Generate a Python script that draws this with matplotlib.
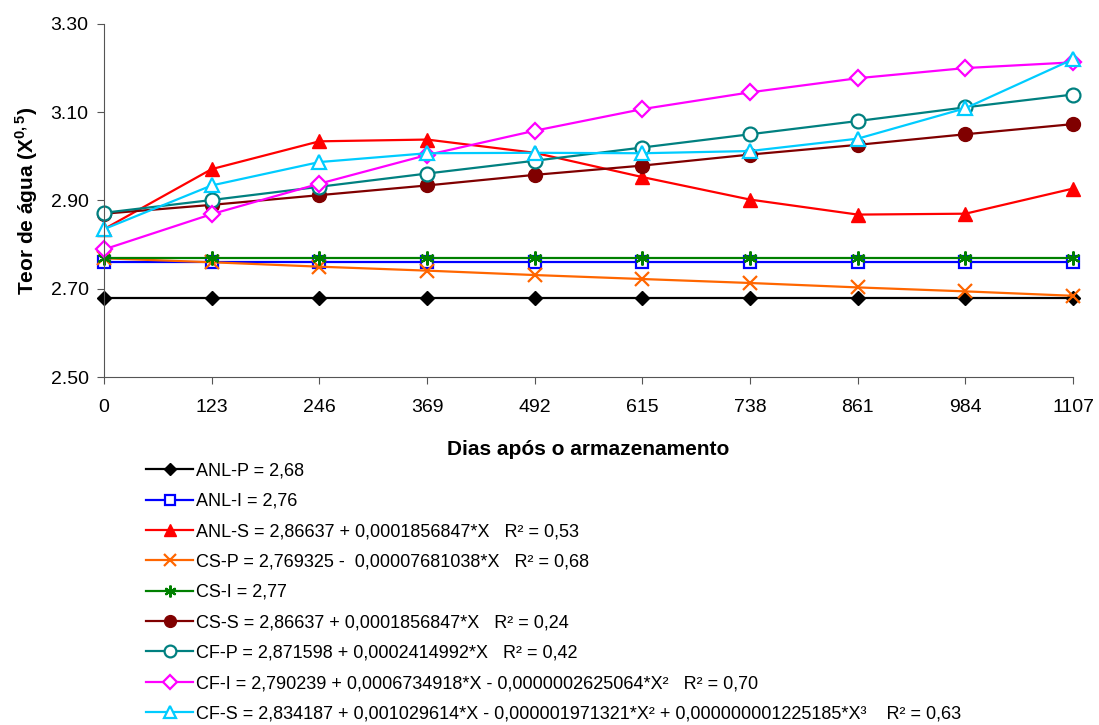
import matplotlib
matplotlib.use("Agg")
import matplotlib.pyplot as plt

plt.rcParams['font.family'] = ['Liberation Sans', 'DejaVu Sans']
plt.rcParams['mathtext.fontset'] = 'custom'
plt.rcParams['mathtext.rm'] = 'Liberation Sans'
plt.rcParams['mathtext.bf'] = 'Liberation Sans:bold'

dias = [0, 123, 246, 369, 492, 615, 738, 861, 984, 1107]

anl_p = [2.68] * 10
anl_i = [2.76] * 10
anl_s = [2.835, 2.971, 3.034, 3.038, 3.008, 2.953, 2.902, 2.868, 2.870, 2.927]
cs_p = [2.769, 2.760, 2.750, 2.741, 2.731, 2.722, 2.713, 2.703, 2.694, 2.684]
cs_i = [2.77] * 10
cs_s = [2.870, 2.890, 2.912, 2.934, 2.958, 2.979, 3.004, 3.026, 3.050, 3.073]
cf_p = [2.872, 2.901, 2.931, 2.961, 2.990, 3.020, 3.050, 3.080, 3.111, 3.140]
cf_i = [2.789, 2.869, 2.938, 3.003, 3.058, 3.107, 3.145, 3.177, 3.200, 3.213]
cf_s = [2.835, 2.934, 2.987, 3.007, 3.008, 3.007, 3.012, 3.040, 3.109, 3.220]

rotulos = [
    "ANL-P = 2,68",
    "ANL-I = 2,76",
    "ANL-S = 2,86637 + 0,0001856847*X   R² = 0,53",
    "CS-P = 2,769325 -  0,00007681038*X   R² = 0,68",
    "CS-I = 2,77",
    "CS-S = 2,86637 + 0,0001856847*X   R² = 0,24",
    "CF-P = 2,871598 + 0,0002414992*X   R² = 0,42",
    "CF-I = 2,790239 + 0,0006734918*X - 0,0000002625064*X²   R² = 0,70",
    "CF-S = 2,834187 + 0,001029614*X - 0,000001971321*X² + 0,000000001225185*X³    R² = 0,63",
]

figure = plt.figure(figsize=(10.99, 7.25), dpi=100)
axes = figure.add_axes([0.0946, 0.48, 0.8818, 0.487])

lw = 1.6
axes.plot(dias, anl_p, color="black", marker="D", ms=7, lw=lw, label=rotulos[0])
axes.plot(dias, anl_i, color="#0000FF", marker="s", ms=8, mfc="white", mew=1.6, lw=lw, label=rotulos[1])
axes.plot(dias, anl_s, color="#FF0000", marker="^", ms=10, lw=lw, label=rotulos[2])
axes.plot(dias, cs_p, color="#FF6600", marker="x", ms=10, mew=1.6, lw=lw, label=rotulos[3])
axes.plot(dias, cs_i, color="#008000", marker=(6, 2, 0), ms=10, mew=1.6, lw=lw, label=rotulos[4])
axes.plot(dias, cs_s, color="#800000", marker="o", ms=10, lw=lw, label=rotulos[5])
axes.plot(dias, cf_p, color="#008080", marker="o", ms=10, mfc="white", mew=1.6, lw=lw, label=rotulos[6])
axes.plot(dias, cf_i, color="#FF00FF", marker="D", ms=8, mfc="white", mew=1.6, lw=lw, label=rotulos[7])
axes.plot(dias, cf_s, color="#00CCFF", marker="^", ms=10, mfc="white", mew=1.6, lw=lw, label=rotulos[8])

axes.set_xlim(0, 1107)
axes.set_ylim(2.5, 3.3)
axes.set_xticks(dias)
axes.set_yticks([2.50, 2.70, 2.90, 3.10, 3.30])
axes.set_yticklabels(["2.50", "2.70", "2.90", "3.10", "3.30"])
axes.tick_params(labelsize=14, length=5, color="#555555")
axes.tick_params(axis="x", pad=11)
axes.tick_params(axis="y", pad=6)
for lado in ["top", "right"]:
    axes.spines[lado].set_visible(False)
for lado in ["left", "bottom"]:
    axes.spines[lado].set_color("#555555")
for linha in axes.lines:
    linha.set_clip_on(False)

axes.set_xlabel("Dias após o armazenamento", fontsize=15, fontweight="bold", labelpad=17)
axes.set_ylabel("Teor de água (X$^{\\mathbf{0,5}}$)", fontsize=15, fontweight="bold", labelpad=8)

handles, labels = axes.get_legend_handles_labels()
figure.legend(handles, labels, loc="upper left", bbox_to_anchor=(0.133, 0.362),
              frameon=False, fontsize=13, handlelength=2.6, handletextpad=0.15,
              labelspacing=0.74, borderpad=0, borderaxespad=0, markerscale=0.85)

figure.savefig("out.png", dpi=100)
